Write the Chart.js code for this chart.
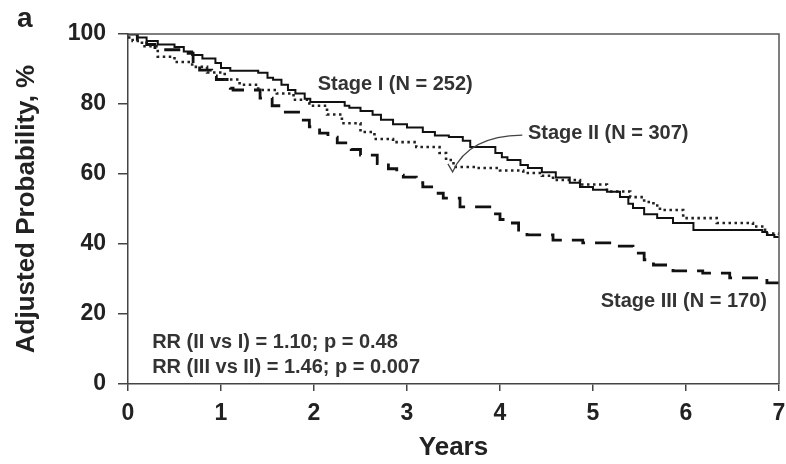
<!DOCTYPE html>
<html>
<head>
<meta charset="utf-8">
<title>Adjusted probability by stage</title>
<script src="https://cdn.jsdelivr.net/npm/chart.js@4.4.1/dist/chart.umd.min.js"></script>
<style>
  html, body { margin: 0; padding: 0; background: #fff; }
  canvas { display: block; }
</style>
</head>
<body>
<canvas id="chart" width="786" height="464"></canvas>
<script>
// Tick labels
const xTicks = [0, 1, 2, 3, 4, 5, 6, 7];
const yTicks = [0, 20, 40, 60, 80, 100];

// Stage I (N = 252) - solid
const stage1Years = [0, 0.1, 0.2, 0.32, 0.5, 0.6, 0.69, 0.8, 0.94, 1.0, 1.1, 1.4, 1.5, 1.56, 1.65, 1.72, 1.8, 1.9, 1.96,
  2.33, 2.38, 2.5, 2.63, 2.72, 2.85, 3.0, 3.17, 3.3, 3.45, 3.6, 3.68, 3.95, 4.02, 4.08, 4.22, 4.3, 4.45, 4.6, 4.75, 4.86,
  5.0, 5.15, 5.29, 5.38, 5.43, 5.55, 5.69, 5.86, 6.08, 6.82, 6.87, 6.95, 7.0];
const stage1Prob = [100, 99, 98, 97, 96.3, 95, 94, 93, 91.7, 90.3, 89.5, 88.9, 87.5, 86.9, 85.5, 84, 83, 81.5, 80.6,
  79.5, 78.9, 78, 76.9, 75.5, 74.2, 73.3, 72, 71, 70.6, 69.5, 67.7, 66, 64.8, 64, 62.6, 61.7, 60.5, 59, 57.5, 56.3,
  55.5, 54.9, 53.4, 51.5, 50.3, 48.5, 47.4, 46, 44, 43.4, 42.6, 42, 42];

// Stage II (N = 307) - dotted
const stage2Years = [0, 0.05, 0.15, 0.32, 0.5, 0.69, 0.85, 1.04, 1.2, 1.4, 1.6, 1.78, 1.95, 2.14, 2.3, 2.5, 2.65, 2.85,
  3.1, 3.35, 3.42, 3.5, 3.75, 4.0, 4.25, 4.45, 4.57, 4.86, 5.15, 5.4, 5.55, 5.65, 5.72, 5.97, 6.33, 6.72, 6.85, 7.0];
const stage2Prob = [99, 98, 96.5, 93.5, 92, 90.6, 89, 87, 85.5, 84, 83, 81.2, 79.5, 77, 74.5, 72, 70, 69.1,
  67.7, 66, 64, 62, 61.7, 61, 60.3, 59.5, 58.3, 57, 55, 53.4, 52, 51, 49.7, 47.4, 46, 45, 43, 42];

// Stage III (N = 170) - dashed
const stage3Years = [0, 0.1, 0.2, 0.29, 0.58, 0.7, 0.77, 0.9, 0.95, 1.1, 1.13, 1.42, 1.55, 1.67, 1.85, 1.95, 2.06, 2.15,
  2.25, 2.4, 2.5, 2.68, 2.8, 2.89, 2.96, 3.1, 3.17, 3.3, 3.39, 3.57, 3.89, 4.0, 4.08, 4.2, 4.29, 4.57, 4.89, 5.18, 5.43,
  5.55, 5.65, 5.86, 6.18, 6.47, 6.87, 7.0];
const stage3Prob = [100, 98.5, 97, 95.5, 94.5, 91.5, 89.7, 88, 87, 84.5, 84, 81.7, 79.5, 77.7, 75.4, 73.5, 71.7, 70.5,
  68.9, 67, 65.4, 63, 61.5, 59.7, 59.1, 57.5, 56.3, 54.5, 53.1, 50.6, 48.6, 47, 46, 44, 42.6, 41.1, 40.3, 39.4, 37.4,
  35.5, 34, 32.3, 31.7, 30.3, 28.9, 27.4];

const FONT = '"Liberation Sans", Arial, Helvetica, sans-serif';

function toPoints(xs, ys) {
    return xs.map((x, i) => ({ x: x, y: ys[i] }));
}

// Frame, labels and the leader line for Stage II
const extras = {
    id: 'extras',
    afterDatasetsDraw(chart) {
        const { ctx, chartArea: a, scales } = chart;
        const px = v => scales.x.getPixelForValue(v);
        const py = v => scales.y.getPixelForValue(v);
        ctx.save();

        ctx.strokeStyle = '#555';
        ctx.lineWidth = 1.5;
        ctx.beginPath();
        ctx.moveTo(a.left, a.top);
        ctx.lineTo(a.right, a.top);
        ctx.lineTo(a.right, a.bottom);
        ctx.stroke();

        ctx.fillStyle = '#333';
        ctx.textBaseline = 'alphabetic';
        ctx.font = 'bold 20px ' + FONT;
        ctx.textAlign = 'left';
        ctx.fillText('Stage I (N = 252)', px(2.04), py(84));
        ctx.fillText('Stage II (N = 307)', px(4.30), py(70));
        ctx.fillText('RR (II vs I) = 1.10; p = 0.48', px(0.26), py(10.3));
        ctx.fillText('RR (III vs II) = 1.46; p = 0.007', px(0.26), py(3.1));
        ctx.textAlign = 'right';
        ctx.fillText('Stage III (N = 170)', px(6.87), py(22));

        // leader line
        ctx.strokeStyle = '#444';
        ctx.lineWidth = 1.3;
        ctx.beginPath();
        ctx.moveTo(px(4.24), py(71.1));
        ctx.quadraticCurveTo(px(3.66), py(70.9), px(3.49), py(60.6));
        ctx.lineTo(px(3.44), py(62.9));
        ctx.stroke();

        // panel letter
        ctx.fillStyle = '#222';
        ctx.textAlign = 'left';
        ctx.font = 'bold 28px ' + FONT;
        ctx.fillText('a', 17, 27);
        ctx.restore();
    }
};

const ctx = document.getElementById('chart').getContext('2d');
new Chart(ctx, {
    type: 'line',
    data: {
        datasets: [
            {
                label: 'Stage I (N = 252)',
                data: toPoints(stage1Years, stage1Prob),
                borderColor: '#111',
                borderWidth: 2
            },
            {
                label: 'Stage II (N = 307)',
                data: toPoints(stage2Years, stage2Prob),
                borderColor: '#222',
                borderWidth: 2.6,
                borderDash: [2.5, 3.5]
            },
            {
                label: 'Stage III (N = 170)',
                data: toPoints(stage3Years, stage3Prob),
                borderColor: '#111',
                borderWidth: 2.8,
                borderDash: [16, 10]
            }
        ]
    },
    options: {
        responsive: false,
        animation: false,
        layout: { padding: { left: 7, top: 34, right: 0, bottom: 0 } },
        plugins: {
            legend: { display: false },
            tooltip: { enabled: false }
        },
        elements: {
            line: { stepped: true, fill: false },
            point: { radius: 0 }
        },
        scales: {
            x: {
                type: 'linear',
                min: 0,
                max: 7,
                afterBuildTicks: s => { s.ticks = xTicks.map(v => ({ value: v })); },
                afterFit: s => { s.height = 80; s.paddingRight = 7; },
                grid: { display: true, drawOnChartArea: false, drawTicks: true, tickLength: 7, color: '#444', lineWidth: 1.5 },
                border: { display: true, color: '#444', width: 1.5 },
                ticks: {
                    padding: 9,
                    color: '#222',
                    font: { family: FONT, size: 23, weight: 'bold' },
                    maxRotation: 0
                },
                title: {
                    display: true,
                    text: 'Years',
                    color: '#222',
                    padding: { top: 0, bottom: 1 },
                    font: { family: FONT, size: 26, weight: 'bold' }
                }
            },
            y: {
                min: 0,
                max: 100,
                afterBuildTicks: s => { s.ticks = yTicks.map(v => ({ value: v })); },
                afterFit: s => { s.width = 121; },
                grid: { display: true, drawOnChartArea: false, drawTicks: true, tickLength: 10, color: '#444', lineWidth: 1.5 },
                border: { display: true, color: '#444', width: 1.5 },
                ticks: {
                    padding: 12,
                    color: '#222',
                    font: { family: FONT, size: 23, weight: 'bold' }
                },
                title: {
                    display: true,
                    text: 'Adjusted Probability, %',
                    color: '#222',
                    padding: { top: 4, bottom: 4 },
                    font: { family: FONT, size: 26, weight: 'bold' }
                }
            }
        }
    },
    plugins: [extras]
});
</script>
</body>
</html>
